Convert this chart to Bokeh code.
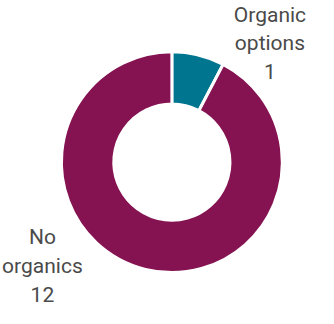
import math
from bokeh.plotting import figure
from bokeh.models import ColumnDataSource
from bokeh.core.properties import value
from bokeh.embed import file_html
from bokeh.resources import INLINE

# ---- data ----
categories = ["Organic options", "No organics"]
counts = [1, 12]
label_texts = ["Organic\noptions\n1", "No\norganics\n12"]
colors = ["#00758F", "#851251"]

# ---- layout (expressed in reference-pixel units, y measured from top) ----
W, H = 318, 308
RW, RH = 334, 324
cx, cy = 180, RH - 170
r_out, r_in = 116, 61
label_anchor = [(283, RH - 45), (44, RH - 279)]   # centre of middle line
line_step = 30

total = sum(counts)
starts, ends = [], []
acc = 0.0
for c in counts:
    starts.append(math.pi / 2 - 2 * math.pi * acc / total)
    acc += c
    ends.append(math.pi / 2 - 2 * math.pi * acc / total)

src = ColumnDataSource(dict(cat=categories, count=counts, start=starts, end=ends, color=colors))

p = figure(width=W, height=H, x_range=(0, RW), y_range=(0, RH),
           output_backend="svg", toolbar_location=None, min_border=0)
p.axis.visible = False
p.grid.visible = False
p.outline_line_color = None
p.background_fill_color = "white"
p.border_fill_color = "white"

p.annular_wedge(x=cx, y=cy, inner_radius=r_in, outer_radius=r_out,
                start_angle="start", end_angle="end", direction="clock",
                fill_color="color", line_color="white", line_width=3, source=src)

xs, ys, ts = [], [], []
for (ax, ay), txt in zip(label_anchor, label_texts):
    lines = txt.split("\n")
    n = len(lines)
    for i, ln in enumerate(lines):
        xs.append(ax)
        ys.append(ay + ((n - 1) / 2 - i) * line_step)
        ts.append(ln)

lsrc = ColumnDataSource(dict(x=xs, y=ys, t=ts))
p.text(x="x", y="y", text="t", source=lsrc, text_align="center", text_baseline="middle",
       text_font=value("Roboto"), text_font_size="21px", text_color="#4a4a4a")

open("out.html", "w").write(file_html(p, INLINE))
